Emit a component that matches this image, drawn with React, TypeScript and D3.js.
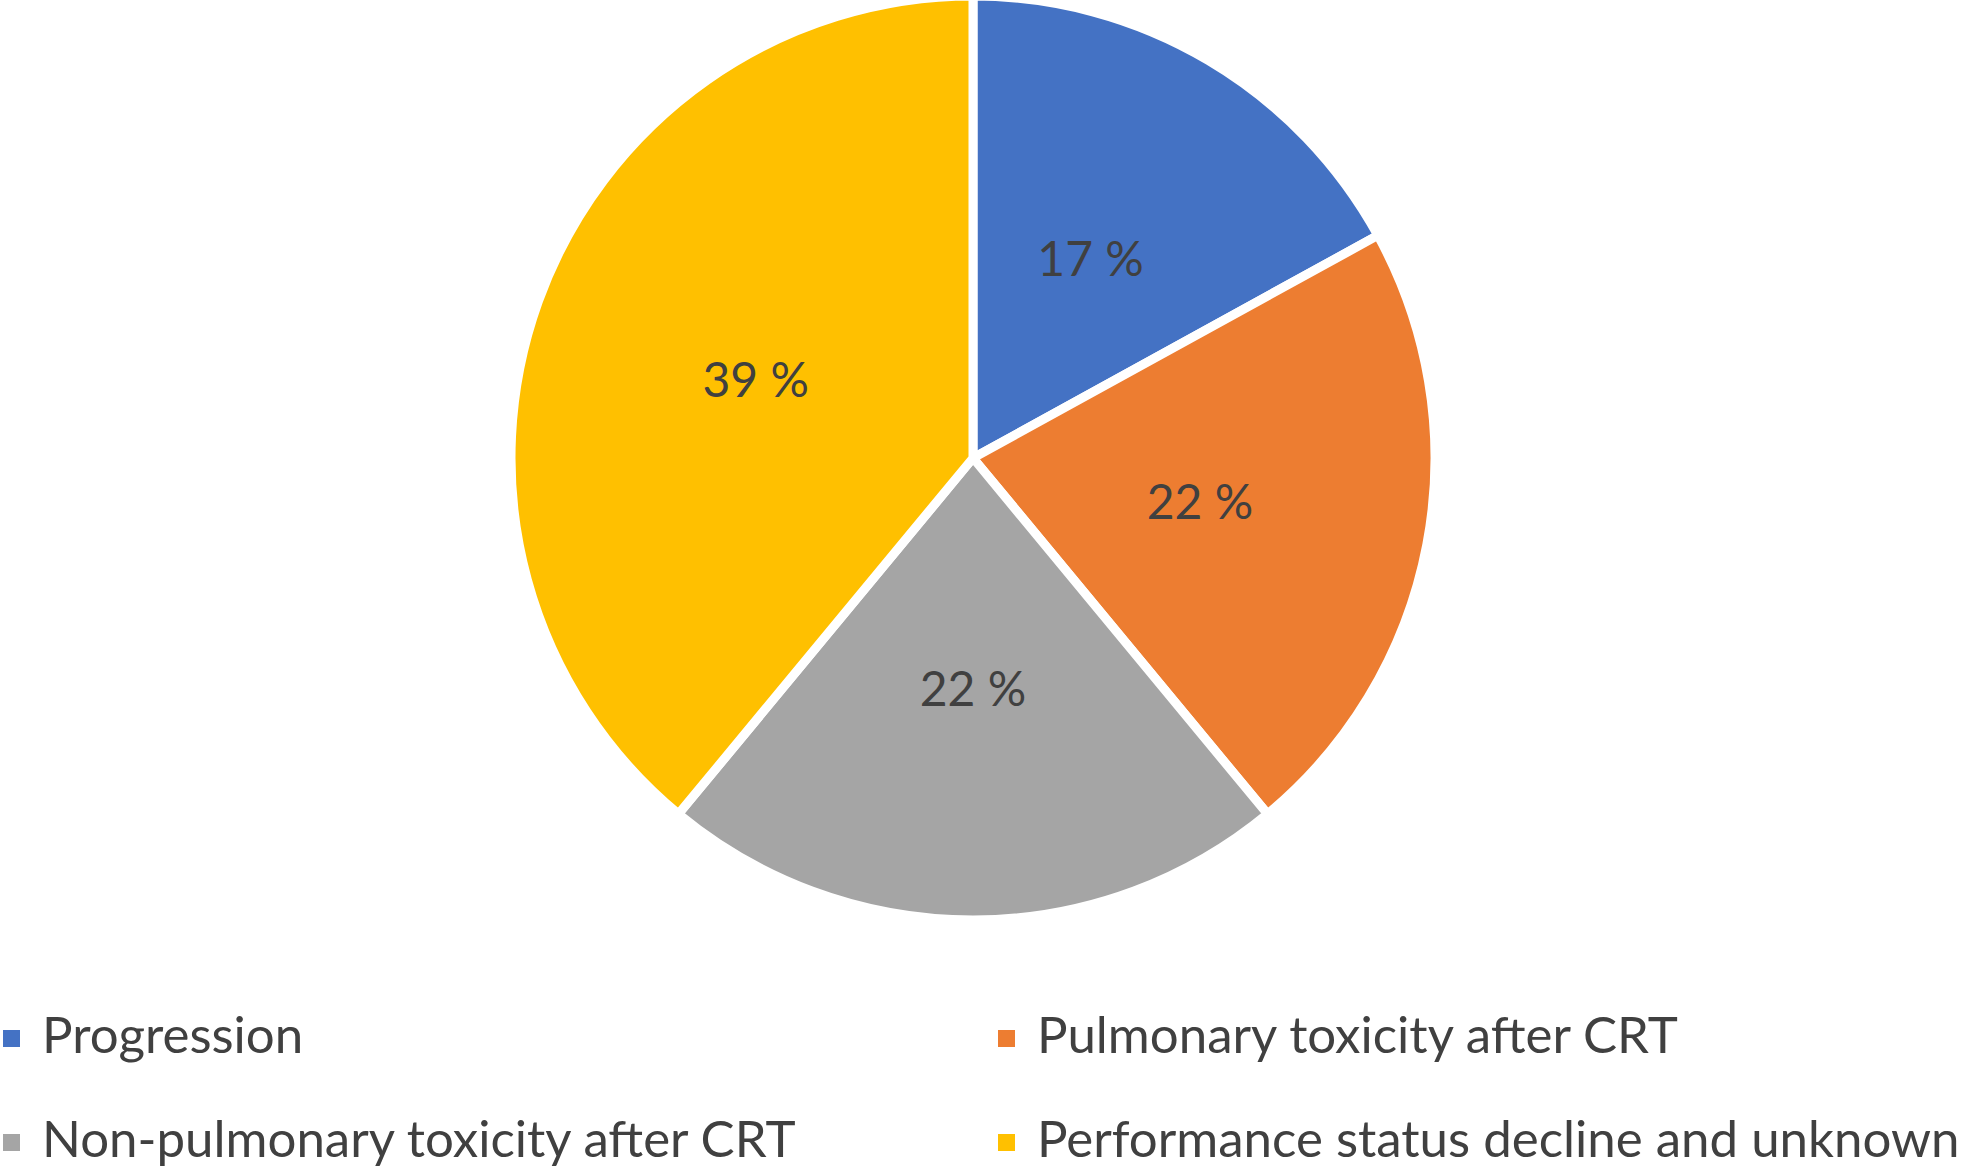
import { useEffect, useRef } from 'react';
import * as d3 from 'd3';

// slice shares in %
const categories = [
  'Progression',
  'Pulmonary toxicity after CRT',
  'Non-pulmonary toxicity after CRT',
  'Performance status decline and unknown',
];
const shares = [17, 22, 22, 39];
const sliceColors = ['#4472C4', '#ED7D31', '#A5A5A5', '#FFC000'];

const width = 1969;
const height = 1168;
const fontFamily = 'Lato, "Open Sans", sans-serif';

export default function App() {
  const svgRef = useRef<SVGSVGElement | null>(null);

  const drawChart = () => {
    const svgEl = d3.select(svgRef.current);
    svgEl.selectAll('*').remove();

    const cx = 973;
    const cy = 458;
    const outerRadius = 462;

    const pieData = d3
      .pie<number>()
      .sort(null)
      .value((d) => d)(shares);

    const arcGenerator = d3.arc<d3.PieArcDatum<number>>().innerRadius(0).outerRadius(outerRadius);
    const labelArc = d3
      .arc<d3.PieArcDatum<number>>()
      .innerRadius(outerRadius * 0.5)
      .outerRadius(outerRadius * 0.5);

    const pieG = svgEl.append('g').attr('transform', `translate(${cx},${cy})`);

    pieG
      .selectAll('path')
      .data(pieData)
      .enter()
      .append('path')
      .attr('d', (d) => arcGenerator(d) as string)
      .attr('fill', (_, i) => sliceColors[i])
      .attr('stroke', '#fff')
      .attr('stroke-width', 9)
      .attr('stroke-linejoin', 'miter');

    pieG
      .selectAll('text')
      .data(pieData)
      .enter()
      .append('text')
      .attr('transform', (d) => `translate(${labelArc.centroid(d)})`)
      .attr('text-anchor', 'middle')
      .attr('dy', '0.36em')
      .attr('font-family', fontFamily)
      .attr('font-size', 48)
      .attr('fill', '#404040')
      .text((d) => `${d.data} %`);

    // legend, two columns x two rows
    const colX = [3, 998];
    const rowY = [1053, 1157];
    const legendG = svgEl
      .append('g')
      .selectAll('g')
      .data(categories)
      .enter()
      .append('g')
      .attr('transform', (_, i) => `translate(${colX[i % 2]},${rowY[Math.floor(i / 2)]})`);

    legendG
      .append('rect')
      .attr('x', 0)
      .attr('y', -23)
      .attr('width', 17)
      .attr('height', 17)
      .attr('fill', (_, i) => sliceColors[i]);

    legendG
      .append('text')
      .attr('x', 39)
      .attr('font-family', fontFamily)
      .attr('font-size', 51)
      .attr('fill', '#404040')
      .text((d) => d);
  };

  useEffect(() => {
    document.body.style.margin = '0';
    drawChart();
  }, []);

  return (
    <svg
      ref={svgRef}
      width={width}
      height={height}
      style={{ display: 'block', background: '#fff' }}
    />
  );
}
